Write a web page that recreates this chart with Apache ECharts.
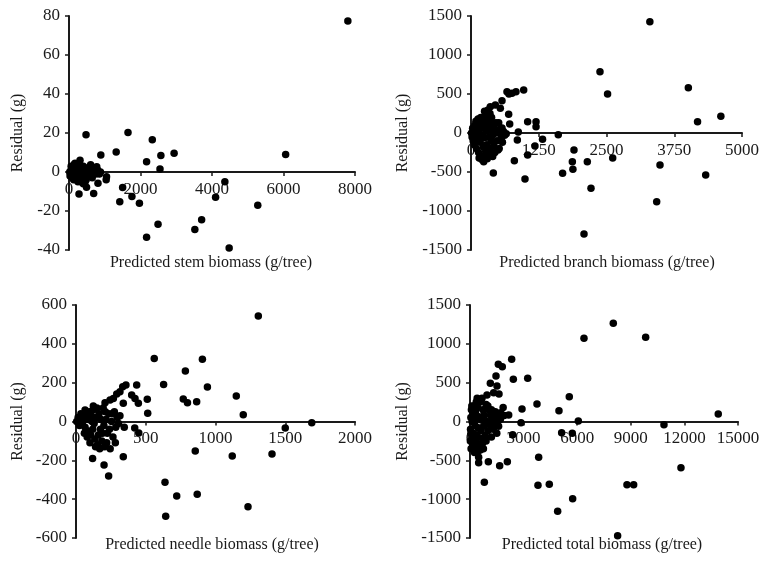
<!DOCTYPE html>
<html>
<head>
<meta charset="utf-8">
<script src="https://cdn.jsdelivr.net/npm/echarts@6/dist/echarts.min.js"></script>
<style>html,body{margin:0;padding:0;background:#fff}#c{width:770px;height:563px}</style>
</head>
<body>
<div id="c"></div>
<script>
// Panel titles
const xTitles = ['Predicted stem biomass (g/tree)', 'Predicted branch biomass (g/tree)', 'Predicted needle biomass (g/tree)', 'Predicted total biomass (g/tree)'];
const yTitle = 'Residual (g)';

// Axis ranges
const xRanges = [[0, 8000, 2000], [0, 5000, 1250], [0, 2000, 500], [0, 15000, 3000]];
const yRanges = [[-40, 80, 20], [-1500, 1500, 500], [-600, 600, 200], [-1500, 1500, 500]];

// Stem: predicted (g/tree), residual (g)
const stemPoints = [
  [7800,77.5],[6060,9],[5280,-17],[4480,-39],[4360,-5],[4100,-13],[3710,-24.5],[3520,-29.5],
  [2940,9.6],[2570,8.5],[2545,1.5],[2330,16.6],[2490,-26.8],[2170,5.2],[2170,-33.5],[1970,-16],
  [1760,-12.5],[1650,20.2],[1500,-8],[1420,-15.3],[1320,10.2],[1050,-2.4],[1040,-4],[890,8.7],
  [880,0],[810,-5.8],[775,2.7],[690,-11],[605,3.7],[476,19.1],[490,-7.8],[308,6],[280,-11.3],[170,4.5],
  [20,0],[40,-1],[60,1],[80,-2],[100,0.5],[120,2],[150,-1],[180,3],[200,-3],[220,1],[250,-2],[260,4],
  [280,-4],[300,0],[320,2],[340,-5],[360,1],[380,-1],[400,3],[420,-3],[440,0],[460,2],[480,-4],[500,1],
  [520,-1],[550,2],[580,-2],[600,0],[620,1],[650,-3],[700,0],[750,-1],[800,1],[850,-1],[100,-3],[150,4],
  [200,2],[250,-5],[300,-3],[350,3],[400,-6],[450,-5],[130,-4],[60,3],[30,-2]
];

// Branch
const branchPoints = [
  [3300,1425],[2380,786],[2520,500],[4010,581],[4180,145],[4610,214],[1610,-22],[1320,-81],[1200,145],
  [1200,81],[1180,-167],[1045,145],[1045,-282],[996,-590],[873,13],[855,-90],[800,-355],[412,-513],
  [1900,-218],[1870,-368],[1880,-465],[1690,-517],[2146,-368],[2214,-709],[2085,-1295],[2614,-320],
  [3487,-410],[3426,-880],[4330,-538],
  [972,551],[830,530],[756,509],[664,530],[700,500],[572,414],[449,359],[356,337],[314,295],[541,316],
  [695,240],[511,132],[714,115],[572,64],[234,-368],[220,-340],[498,-218],
  [10,0],[20,-50],[30,60],[40,-100],[50,20],[60,-150],[70,100],[80,-30],[90,150],[100,-200],[110,50],
  [120,-80],[130,180],[140,-250],[150,0],[160,120],[170,-120],[180,200],[190,-300],[200,60],[210,-40],
  [220,160],[230,-180],[240,100],[250,-60],[260,220],[270,-240],[280,30],[290,-150],[300,180],[310,-280],
  [320,80],[330,-50],[340,140],[350,-200],[360,40],[370,-100],[380,200],[390,-280],[400,100],[410,-20],
  [420,-160],[430,60],[440,-250],[460,130],[480,-100],[500,0],[520,-200],[540,50],[560,-60],[580,-120],
  [600,20],[620,-30],[650,-10],[150,-320],[200,-340],[100,80],[60,40],[250,280],[300,-330],[270,260],
  [350,250],[400,-300]
];

// Needle
const needlePoints = [
  [1307,543],[561,325],[906,320],[784,260],[628,190],[942,178],[1149,131],[769,116],[799,97],[865,102],
  [1199,35],[1500,-33],[1690,-6],[1120,-178],[1405,-167],[855,-152],[869,-375],[722,-384],[638,-313],
  [643,-488],[1233,-439],[514,42],[511,114],[435,188],[447,94],[358,188],[421,-33],[450,-59],[339,-181],
  [346,-30],[234,-281],[201,-224],[119,-190],[282,-109],[335,179],[315,153],[292,142],[268,119],[244,111],
  [208,97],[339,94],[399,136],[423,119],[124,80],[65,59],
  [5,0],[15,20],[25,-20],[35,40],[45,-10],[55,10],[65,-30],[75,30],[85,-50],[95,50],[105,-70],[115,0],
  [125,60],[135,-90],[145,20],[155,-120],[165,40],[175,-40],[185,-100],[195,70],[205,-130],[215,10],
  [225,-60],[235,40],[245,-140],[255,0],[265,-80],[275,50],[285,-30],[295,20],[305,-10],[315,30],[80,-80],
  [100,-110],[120,-40],[140,-130],[160,-70],[180,10],[200,-20],[220,-110],[150,70],[170,-140],[190,-60],
  [110,30],[130,-10],[60,-60],[90,10],[240,-40],[260,40],[210,50]
];

// Total
const totalPoints = [
  [8020,1264],[6380,1071],[9832,1084],[2333,801],[1585,736],[1808,706],[2425,543],[3229,556],[1455,586],
  [1138,492],[1510,457],[5557,320],[1623,354],[3749,225],[2910,161],[1855,180],[1911,76],[1716,114],
  [4980,139],[6063,6],[2854,-15],[5129,-144],[5725,-152],[2388,-170],[13895,97],[10856,-41],[3844,-461],
  [11807,-595],[3805,-821],[4438,-809],[8786,-814],[9160,-814],[5745,-994],[4906,-1156],[8263,-1470],
  [1660,-569],[2090,-517],[1026,-517],[802,-783],[1324,371],[951,341],[671,299],[2165,84],[1418,126],
  [485,-530],[485,-460],[578,-367],
  [20,-250],[30,-100],[50,50],[60,-350],[80,150],[100,-200],[120,0],[150,-300],[180,100],[200,-150],
  [220,200],[250,-400],[280,-50],[300,120],[330,-250],[360,30],[400,-180],[430,180],[460,-80],[500,60],
  [530,-300],[560,250],[600,-120],[640,20],[680,-220],[720,150],[760,-60],[800,80],[850,-180],[900,220],
  [950,0],[1000,-120],[1050,150],[1100,-40],[1150,80],[1200,-200],[1250,40],[1300,-100],[1350,120],
  [1400,-30],[1450,60],[1500,-150],[1550,0],[100,200],[200,-350],[300,-300],[400,300],[600,280],
  [700,-280],[150,50],[50,-150],[250,-200],[350,250],[450,-380],[750,-350],[900,-250],[1000,200],
  [1200,150],[1600,-60],[1700,30]
];

const allPoints = [stemPoints, branchPoints, needlePoints, totalPoints];

// layout
const grids = [
  {left: 69, top: 16, width: 286, height: 234},
  {left: 471, top: 16, width: 271, height: 234},
  {left: 76, top: 305, width: 279, height: 233},
  {left: 470, top: 305, width: 268, height: 233}
];
const yNameGaps = [43, 60, 50, 59];
const xTitlePos = [[211, 263], [607, 263], [212, 545], [602, 545]];

const font = 'Liberation Serif, Times New Roman, serif';
const ink = '#1a1a1a';

const xAxis = [], yAxis = [], series = [];
for (let i = 0; i < 4; i++) {
  const yr = yRanges[i];
  // shift the x axis up so it sits on the zero line of the residuals
  const zeroOffset = -grids[i].height * (0 - yr[0]) / (yr[1] - yr[0]);
  xAxis.push({
    type: 'value', gridIndex: i,
    min: xRanges[i][0], max: xRanges[i][1], interval: xRanges[i][2],
    offset: zeroOffset,
    axisLine: {onZero: false, lineStyle: {color: ink, width: 2}},
    axisTick: {show: true, length: 4, lineStyle: {color: ink, width: 1.5}},
    axisLabel: {color: ink, fontFamily: font, fontSize: 17, margin: 9, formatter: v => String(v)},
    splitLine: {show: false}
  });
  yAxis.push({
    type: 'value', gridIndex: i,
    min: yr[0], max: yr[1], interval: yr[2],
    name: yTitle, nameLocation: 'middle', nameGap: yNameGaps[i], nameRotate: 90,
    nameTextStyle: {color: ink, fontFamily: font, fontSize: 16},
    axisLine: {onZero: false, lineStyle: {color: ink, width: 2}},
    axisTick: {show: true, length: 4, lineStyle: {color: ink, width: 1.5}},
    axisLabel: {color: ink, fontFamily: font, fontSize: 17, margin: 9, formatter: v => String(v)},
    splitLine: {show: false}
  });
  series.push({
    type: 'scatter', xAxisIndex: i, yAxisIndex: i,
    data: allPoints[i], symbolSize: 7.5,
    itemStyle: {color: '#000', opacity: 1}
  });
}

const chart = echarts.init(document.getElementById('c'));
chart.setOption({
  animation: false,
  backgroundColor: '#fff',
  grid: grids,
  xAxis: xAxis,
  yAxis: yAxis,
  series: series,
  graphic: xTitles.map((t, i) => ({
    type: 'text', x: xTitlePos[i][0], y: xTitlePos[i][1],
    style: {text: t, fill: ink, font: '16px ' + font, align: 'center', verticalAlign: 'middle'}
  }))
});
</script>
</body>
</html>
